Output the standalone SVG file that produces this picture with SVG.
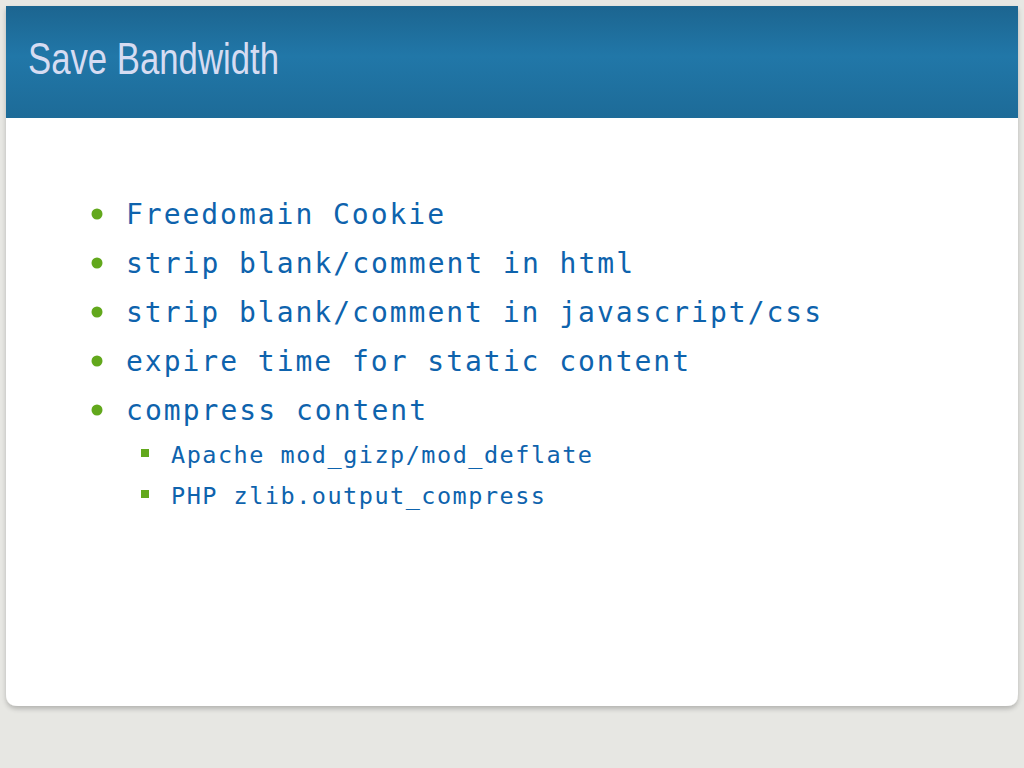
<svg xmlns="http://www.w3.org/2000/svg" width="1024" height="768" viewBox="0 0 1024 768">
<defs>
<linearGradient id="hdr" x1="0" y1="0" x2="0" y2="1">
<stop offset="0" stop-color="#1c6590"/>
<stop offset="0.45" stop-color="#2177a8"/>
<stop offset="1" stop-color="#1d6b98"/>
</linearGradient>
<filter id="sh" x="-5%" y="-5%" width="110%" height="115%">
<feGaussianBlur in="SourceAlpha" stdDeviation="2.5"/>
<feOffset dx="0" dy="3"/>
<feComponentTransfer><feFuncA type="linear" slope="0.22"/></feComponentTransfer>
<feMerge><feMergeNode/><feMergeNode in="SourceGraphic"/></feMerge>
</filter>
<style>
.b{font-family:"DejaVu Sans Mono","Liberation Mono",monospace;font-size:28px;fill:#0e63ad}
.s{font-family:"DejaVu Sans Mono","Liberation Mono",monospace;font-size:23.5px;fill:#0e63ad}
.dot{fill:#62a81c}
</style>
</defs>
<rect width="1024" height="768" fill="#e7e7e3"/>
<g id="card">
<path d="M6 6 H1018 V694 Q1018 706 1006 706 H18 Q6 706 6 694 Z" fill="#ffffff" filter="url(#sh)"/>
<rect x="6" y="6" width="1012" height="112" fill="url(#hdr)"/>
<text x="28" y="74" font-family="'Liberation Sans Narrow','Liberation Sans',sans-serif" font-size="44" fill="#d6dcf2" textLength="251" lengthAdjust="spacingAndGlyphs">Save Bandwidth</text>
</g>
<g id="bullets">
<circle class="dot" cx="97" cy="214" r="5.5"/>
<text class="b" x="126" y="224" textLength="318">Freedomain Cookie</text>
<circle class="dot" cx="97" cy="263" r="5.5"/>
<text class="b" x="126" y="273" textLength="507">strip blank/comment in html</text>
<circle class="dot" cx="97" cy="312" r="5.5"/>
<text class="b" x="126" y="322" textLength="695">strip blank/comment in javascript/css</text>
<circle class="dot" cx="97" cy="361" r="5.5"/>
<text class="b" x="126" y="371" textLength="563">expire time for static content</text>
<circle class="dot" cx="97" cy="410" r="5.5"/>
<text class="b" x="126" y="420" textLength="300">compress content</text>
<rect class="dot" x="141" y="449" width="8" height="8"/>
<text class="s" x="171" y="463" textLength="421">Apache mod_gizp/mod_deflate</text>
<rect class="dot" x="141" y="490" width="8" height="8"/>
<text class="s" x="171" y="504" textLength="374">PHP zlib.output_compress</text>
</g>
</svg>
